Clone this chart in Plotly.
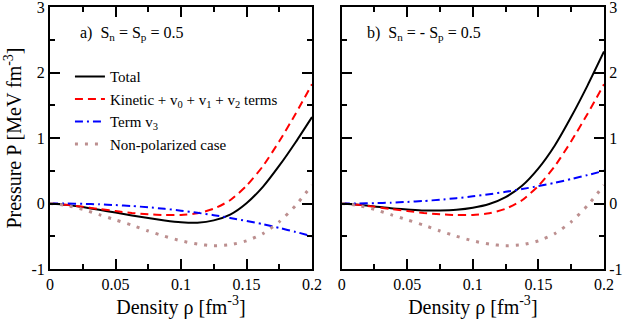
import plotly.graph_objects as go

# Density grid (fm^-3)
rho = [0, 0.0125, 0.025, 0.0375, 0.05, 0.0625, 0.075, 0.0875, 0.1,
       0.1125, 0.125, 0.1375, 0.15, 0.1625, 0.175, 0.1875, 0.2]

# Panel a) Sn = Sp = 0.5
total_a = [0, -0.021, -0.055, -0.097, -0.139, -0.183, -0.223, -0.258, -0.285,
           -0.292, -0.258, -0.17, 0.004, 0.254, 0.577, 0.936, 1.32]
kin_a = [0, -0.02, -0.05, -0.085, -0.115, -0.145, -0.165, -0.177, -0.175,
         -0.15, -0.08, 0.05, 0.27, 0.57, 0.95, 1.37, 1.82]
v3_a = [0, -0.001, -0.005, -0.012, -0.024, -0.038, -0.058, -0.081, -0.11,
        -0.142, -0.178, -0.22, -0.266, -0.316, -0.373, -0.434, -0.5]

# Panel b) Sn = -Sp = 0.5
total_b = [0, -0.019, -0.045, -0.073, -0.091, -0.107, -0.107, -0.096, -0.065,
           -0.008, 0.098, 0.27, 0.536, 0.886, 1.323, 1.804, 2.32]
kin_b = [0, -0.02, -0.05, -0.085, -0.115, -0.145, -0.165, -0.177, -0.175,
         -0.15, -0.08, 0.05, 0.27, 0.57, 0.95, 1.37, 1.82]
v3_b = [0, 0.001, 0.005, 0.012, 0.024, 0.038, 0.058, 0.081, 0.11,
        0.142, 0.178, 0.22, 0.266, 0.316, 0.373, 0.434, 0.5]

# Non-polarized case (same in both panels)
nonpol = [0, -0.03, -0.09, -0.17, -0.25, -0.33, -0.42, -0.5, -0.57,
          -0.62, -0.645, -0.63, -0.57, -0.46, -0.28, -0.03, 0.28]

names = ["Total", "Kinetic + v<sub>0</sub> + v<sub>1</sub> + v<sub>2</sub> terms",
         "Term v<sub>3</sub>", "Non-polarized case"]
yticks = [-1, 0, 1, 2, 3]
yticktext = ["-1", "0", "1", "2", "3"]

FONT = "Liberation Serif"
styles = [
    dict(color="#000000", width=2, dash="solid"),
    dict(color="#ff0000", width=2, dash="8px,5px"),
    dict(color="#0000ff", width=2, dash="8px,4px,2px,4px"),
    dict(color="#bc8f8f", width=3, dash="3px,7px"),
]

fig = go.Figure()
panels = [("x", "y", [total_a, kin_a, v3_a, nonpol], True),
          ("x2", "y2", [total_b, kin_b, v3_b, nonpol], False)]
for xa, ya, series, leg in panels:
    for nm, ys, st in zip(names, series, styles):
        fig.add_trace(go.Scatter(x=rho, y=ys, mode="lines", name=nm,
                                 line=dict(shape="spline", smoothing=0.6, **st),
                                 xaxis=xa, yaxis=ya, showlegend=leg))

W, H = 623, 321
ml, mr, mt, mb = 50, 19, 7, 52
pw = W - ml - mr
d1 = [0, 262 / pw]
d2 = [(341.7 - ml) / pw, 1]

axcommon = dict(showline=True, linecolor="black", linewidth=2, mirror="allticks",
                ticks="inside", tickcolor="black", tickwidth=1.5, ticklen=10,
                showgrid=False, zeroline=False, automargin=False,
                ticklabeloverflow="allow",
                tickfont=dict(family=FONT, size=16, color="black"))

xcommon = dict(range=[0, 0.2], tickmode="array", tickvals=[0, 0.05, 0.1, 0.15, 0.2],
               ticktext=["0", "0.05", "0.1", "0.15", "0.2"],
               minor=dict(ticks="inside", tickmode="array",
                          tickvals=[0.025, 0.075, 0.125, 0.175],
                          ticklen=5, tickwidth=1.5, tickcolor="black"),
               title=dict(text="Density ρ [fm<sup>-3</sup>]", standoff=4,
                          font=dict(family=FONT, size=20, color="black")),
               **axcommon)
ycommon = dict(range=[-1, 3], tickmode="array", tickvals=yticks, ticktext=yticktext,
               minor=dict(ticks="inside", tickmode="array",
                          tickvals=[-0.5, 0.5, 1.5, 2.5],
                          ticklen=5, tickwidth=1.5, tickcolor="black"),
               **axcommon)

fig.update_layout(
    width=W, height=H,
    margin=dict(l=ml, r=mr, t=mt, b=mb),
    paper_bgcolor="white", plot_bgcolor="white",
    font=dict(family=FONT, color="black"),
    xaxis=dict(domain=d1, anchor="y", **xcommon),
    xaxis2=dict(domain=d2, anchor="y2", **xcommon),
    yaxis=dict(domain=[0, 1], anchor="x",
               title=dict(text="Pressure P [MeV fm<sup>-3</sup>]", standoff=4,
                          font=dict(family=FONT, size=20, color="black")),
               **ycommon),
    yaxis2=dict(domain=[0, 1], anchor="x2", side="right", **ycommon),
    legend=dict(x=0.036, y=0.797, xanchor="left", yanchor="top",
                bgcolor="rgba(0,0,0,0)", itemwidth=30, tracegroupgap=0,
                font=dict(family=FONT, size=15, color="black")),
    annotations=[
        dict(text="a)  S<sub>n</sub> = S<sub>p</sub> = 0.5", x=0.0214, y=2.6,
             xref="x", yref="y", xanchor="left", yanchor="middle", showarrow=False,
             font=dict(family=FONT, size=16, color="black")),
        dict(text="b)  S<sub>n</sub> = - S<sub>p</sub> = 0.5", x=0.0178, y=2.6,
             xref="x2", yref="y2", xanchor="left", yanchor="middle", showarrow=False,
             font=dict(family=FONT, size=16, color="black")),
    ],
)

fig.write_html("out.html", config={"displayModeBar": False},
               post_script="document.body.style.margin='0';")
